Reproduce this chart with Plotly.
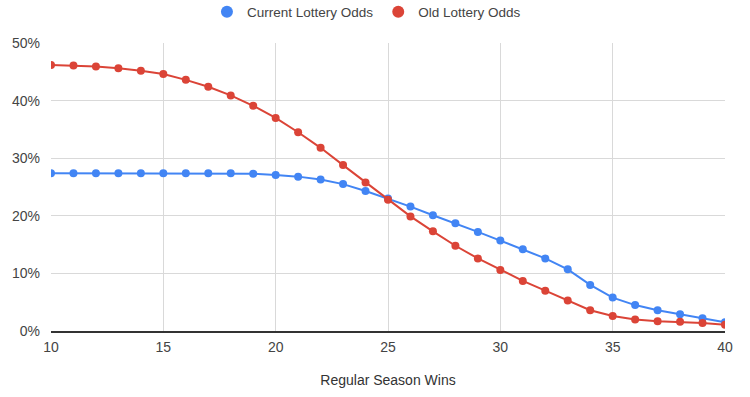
import plotly.graph_objects as go

wins = list(range(10, 41))
current_odds = [27.4, 27.4, 27.4, 27.4, 27.4, 27.4, 27.4, 27.4, 27.4, 27.3, 27.1,
                26.8, 26.3, 25.5, 24.3, 23.0, 21.6, 20.1, 18.7, 17.2, 15.7,
                14.2, 12.6, 10.7, 8.0, 5.8, 4.5, 3.6, 2.9, 2.2, 1.5]
old_odds = [46.2, 46.1, 45.9, 45.6, 45.2, 44.6, 43.6, 42.4, 40.9, 39.1, 37.0,
            34.5, 31.8, 28.8, 25.8, 22.8, 19.9, 17.3, 14.8, 12.6, 10.6,
            8.7, 7.0, 5.3, 3.6, 2.6, 2.0, 1.7, 1.6, 1.4, 1.1]
series_names = ["Current Lottery Odds", "Old Lottery Odds"]
x_ticks = [10, 15, 20, 25, 30, 35, 40]
y_ticks = [0, 10, 20, 30, 40, 50]
y_labels = ["0%", "10%", "20%", "30%", "40%", "50%"]

BLUE = "#4285F4"
RED = "#DB4437"
FONT = "Liberation Sans, Arial, sans-serif"

fig = go.Figure()
for name, vals, col in [(series_names[0], current_odds, BLUE), (series_names[1], old_odds, RED)]:
    fig.add_trace(go.Scatter(
        x=wins, y=vals, mode="lines+markers", name=name, showlegend=False,
        line=dict(color=col, width=2),
        marker=dict(color=col, size=8),
        hovertemplate="%{x}: %{y:.1f}%<extra>" + name + "</extra>",
    ))
    # legend-only entry (circle symbol only)
    fig.add_trace(go.Scatter(
        x=[None], y=[None], mode="markers", name=name,
        marker=dict(color=col, size=11), showlegend=True,
    ))

fig.update_layout(
    width=750, height=397,
    margin=dict(l=51, r=25, t=43, b=66, autoexpand=False),
    paper_bgcolor="white", plot_bgcolor="white",
    font=dict(family=FONT, size=14, color="#444444"),
    legend=dict(orientation="h", x=0.468, xanchor="center", y=1.108, yanchor="middle",
                yref="paper", font=dict(size=13.5, color="#444444"),
                itemsizing="constant", itemwidth=30, traceorder="normal"),
    xaxis=dict(
        range=[10, 40], tickvals=x_ticks, ticktext=[str(t) for t in x_ticks],
        showgrid=True, gridcolor="#d9d9d9", gridwidth=1,
        showline=True, linecolor="#333333", linewidth=1.5,
        zeroline=False, ticks="", ticklabelstandoff=2, automargin=False,
        title=dict(text="Regular Season Wins", standoff=22, font=dict(size=14, color="#333333")),
        fixedrange=True,
    ),
    yaxis=dict(
        range=[0, 50], tickvals=y_ticks, ticktext=y_labels,
        showgrid=True, gridcolor="#d9d9d9", gridwidth=1,
        zeroline=False, showline=False, ticks="", automargin=False,
        ticklabelstandoff=10, fixedrange=True,
    ),
)

fig.write_html("out.html", config={"displayModeBar": False},
               post_script="document.body.style.margin='0';")
